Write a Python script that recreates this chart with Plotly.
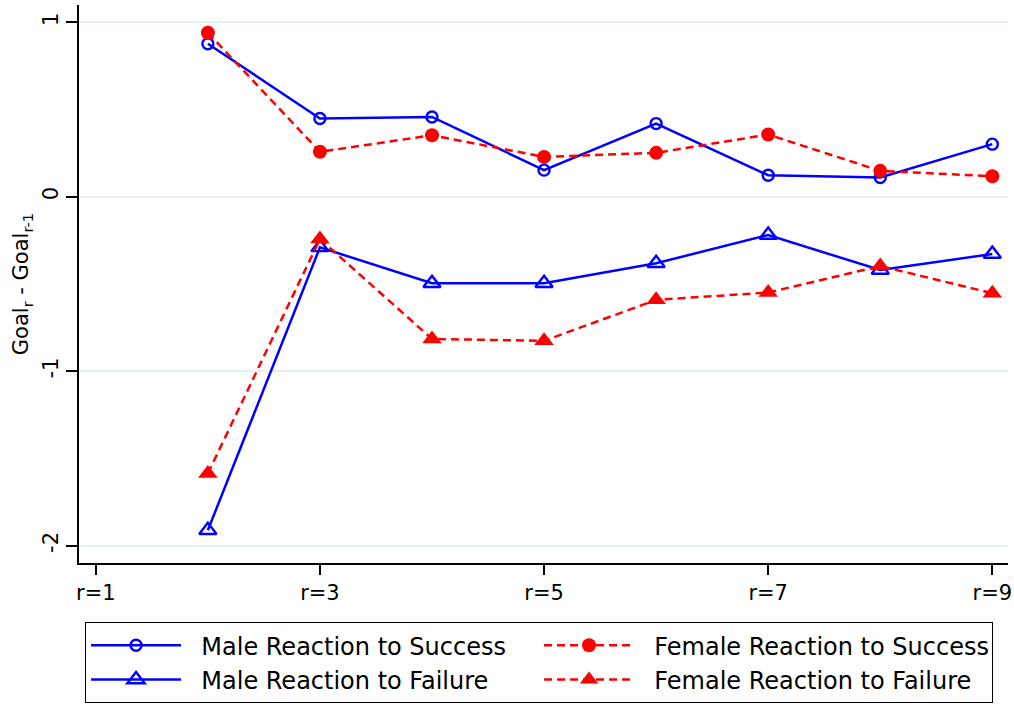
import plotly.graph_objects as go

# Rounds r = 2..9
rounds = [2, 3, 4, 5, 6, 7, 8, 9]

# Mean change in goal from the previous round, by gender and outcome
male_success = [0.878, 0.449, 0.458, 0.153, 0.420, 0.124, 0.111, 0.302]
female_success = [0.941, 0.258, 0.353, 0.229, 0.252, 0.357, 0.149, 0.118]
male_failure = [-1.912, -0.290, -0.496, -0.496, -0.381, -0.219, -0.420, -0.328]
female_failure = [-1.587, -0.242, -0.815, -0.826, -0.591, -0.549, -0.397, -0.553]

series_names = [
    "Male Reaction to Success",
    "Female Reaction to Success",
    "Male Reaction to Failure",
    "Female Reaction to Failure",
]

x_tick_vals = [1, 3, 5, 7, 9]
x_tick_text = ["r=1", "r=3", "r=5", "r=7", "r=9"]
y_tick_vals = [-2, -1, 0, 1]
y_tick_text = ["-2", "-1", "0", "1"]

BLUE = "#0000ff"
RED = "#ff0000"
FONT = "DejaVu Sans"
PAD = "\u00a0\u00a0"  # small gap between legend sample and its label

fig = go.Figure()

fig.add_trace(go.Scatter(
    x=rounds, y=male_success, mode="lines+markers",
    name=PAD + series_names[0],
    line=dict(color=BLUE, width=2.5),
    marker=dict(symbol="circle-open", size=11, color=BLUE, line=dict(width=2.4, color=BLUE)),
))
fig.add_trace(go.Scatter(
    x=rounds, y=female_success, mode="lines+markers",
    name=PAD + series_names[1],
    line=dict(color=RED, width=2.5, dash="8px,5px"),
    marker=dict(symbol="circle", size=14, color=RED),
))
fig.add_trace(go.Scatter(
    x=rounds, y=male_failure, mode="lines+markers",
    name=PAD + series_names[2],
    line=dict(color=BLUE, width=2.5),
    marker=dict(symbol="triangle-up-open", size=15, color=BLUE, line=dict(width=2.4, color=BLUE)),
))
fig.add_trace(go.Scatter(
    x=rounds, y=female_failure, mode="lines+markers",
    name=PAD + series_names[3],
    line=dict(color=RED, width=2.5, dash="8px,5px"),
    marker=dict(symbol="triangle-up", size=17, color=RED),
))

fig.update_layout(
    width=1014, height=708,
    margin=dict(l=79, r=6, t=5, b=145, autoexpand=False),
    paper_bgcolor="white", plot_bgcolor="white",
    font=dict(family=FONT, size=21, color="black"),
    showlegend=True,
    legend=dict(
        orientation="h",
        x=0.0065, y=-0.106, xanchor="left", yanchor="top",
        entrywidth=348, entrywidthmode="pixels",
        itemwidth=90,
        font=dict(family=FONT, size=24, color="black"),
        bordercolor="black", borderwidth=1,
        bgcolor="white",
        traceorder="normal",
    ),
)

fig.update_xaxes(
    range=[0.85, 9.14],
    tickmode="array", tickvals=x_tick_vals, ticktext=x_tick_text,
    ticks="outside", ticklen=10, tickwidth=1.5, tickcolor="black",
    showline=True, linecolor="black", linewidth=1.5,
    showgrid=False, zeroline=False,
    tickfont=dict(family=FONT, size=21),
)
fig.update_yaxes(
    range=[-2.1, 1.1],
    tickmode="array", tickvals=y_tick_vals, ticktext=y_tick_text,
    ticks="outside", ticklen=11, tickwidth=1.5, tickcolor="black",
    tickangle=-90,
    showline=True, linecolor="black", linewidth=1.5,
    showgrid=True, gridcolor="#e6eff1", gridwidth=2,
    zeroline=False,
    tickfont=dict(family=FONT, size=21),
    title=dict(text="Goal<sub>r</sub> - Goal<sub>r-1</sub>", font=dict(family=FONT, size=21), standoff=4),
)

fig.write_html("out.html")
